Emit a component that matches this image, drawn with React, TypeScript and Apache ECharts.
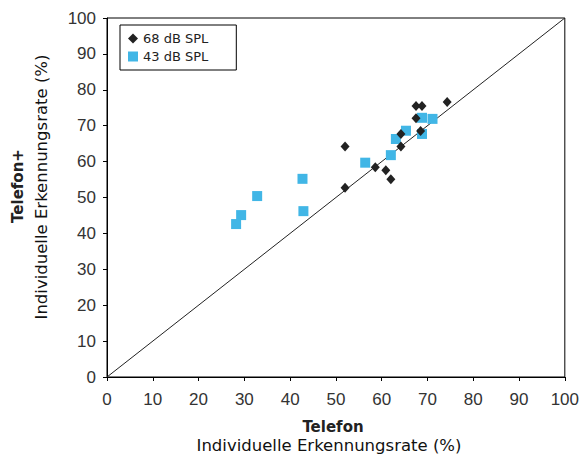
import React, { useEffect, useRef } from "react";
import * as echarts from "echarts";

const seriesNames = ["68 dB SPL", "43 dB SPL"];
const spl68: [number, number][] = [
  [52.0, 64.2], [52.0, 52.7], [58.6, 58.4], [60.9, 57.6], [62.0, 55.1],
  [64.2, 64.2], [64.2, 67.7], [67.5, 75.5], [68.8, 75.5], [67.5, 72.1],
  [68.5, 68.5], [74.3, 76.6],
];
const spl43: [number, number][] = [
  [28.2, 42.6], [29.3, 45.1], [32.8, 50.4], [42.7, 55.2], [42.9, 46.2],
  [56.4, 59.7], [62.0, 61.8], [63.1, 66.3], [65.3, 68.6], [68.8, 72.2],
  [71.1, 71.9], [68.8, 67.7],
];
const diagonal: [number, number][] = [[0, 0], [100, 100]];
const xTitle = ["Telefon", "Individuelle Erkennungsrate (%)"];
const yTitle = ["Telefon+", "Individuelle Erkennungsrate (%)"];

const titleFont = "'DejaVu Sans', Verdana, sans-serif";

export default function App() {
  const ref = useRef<HTMLDivElement>(null);
  useEffect(() => {
    if (!ref.current) return;
    const chart = echarts.init(ref.current, undefined, { renderer: "svg" });
    const axisCommon = {
      type: "value" as const,
      min: 0,
      max: 100,
      interval: 10,
      axisLine: { show: true, lineStyle: { color: "#000", width: 1 } },
      axisTick: { show: true, length: 4, lineStyle: { color: "#000" } },
      splitLine: { show: false },
      axisLabel: { color: "#333", fontSize: 17, fontFamily: "'Liberation Sans', Arial, sans-serif" },
    };
    chart.setOption({
      animation: false,
      backgroundColor: "#fff",
      grid: { left: 107, right: 14, top: 18, bottom: 77, show: true, borderColor: "#000", borderWidth: 1 },
      xAxis: { ...axisCommon, axisLabel: { ...axisCommon.axisLabel, margin: 14 } },
      yAxis: { ...axisCommon, axisLabel: { ...axisCommon.axisLabel, margin: 11 } },
      legend: {
        data: seriesNames,
        orient: "vertical",
        left: 120,
        top: 25,
        padding: [7, 28, 7, 8],
        itemGap: 5,
        itemWidth: 10,
        itemHeight: 10,
        borderColor: "#000",
        borderWidth: 1,
        backgroundColor: "#fff",
        textStyle: { fontSize: 13, color: "#222", fontFamily: titleFont },
      },
      series: [
        {
          type: "line",
          data: diagonal,
          symbol: "none",
          lineStyle: { color: "#222", width: 1 },
          silent: true,
          z: 1,
        },
        {
          name: seriesNames[1],
          type: "scatter",
          data: spl43,
          symbol: "rect",
          symbolSize: 10,
          itemStyle: { color: "#41b6e6", opacity: 1 },
          z: 2,
        },
        {
          name: seriesNames[0],
          type: "scatter",
          data: spl68,
          symbol: "diamond",
          symbolSize: [9, 10],
          itemStyle: { color: "#222", opacity: 1 },
          z: 3,
        },
      ],
      graphic: [
        {
          type: "text", x: 333, y: 427,
          style: { text: xTitle[0], font: `bold 15px ${titleFont}`, fill: "#222", textAlign: "center", textVerticalAlign: "middle" },
        },
        {
          type: "text", x: 329, y: 445,
          style: { text: xTitle[1], font: `16.5px ${titleFont}`, fill: "#111", textAlign: "center", textVerticalAlign: "middle" },
        },
        {
          type: "text", x: 18, y: 186, rotation: Math.PI / 2,
          style: { text: yTitle[0], font: `bold 15px ${titleFont}`, fill: "#222", textAlign: "center", textVerticalAlign: "middle" },
        },
        {
          type: "text", x: 41, y: 187, rotation: Math.PI / 2,
          style: { text: yTitle[1], font: `16.5px ${titleFont}`, fill: "#111", textAlign: "center", textVerticalAlign: "middle" },
        },
      ],
    });
    return () => chart.dispose();
  }, []);
  return <div ref={ref} style={{ width: 582, height: 454, position: "absolute", left: 0, top: 0 }} />;
}
